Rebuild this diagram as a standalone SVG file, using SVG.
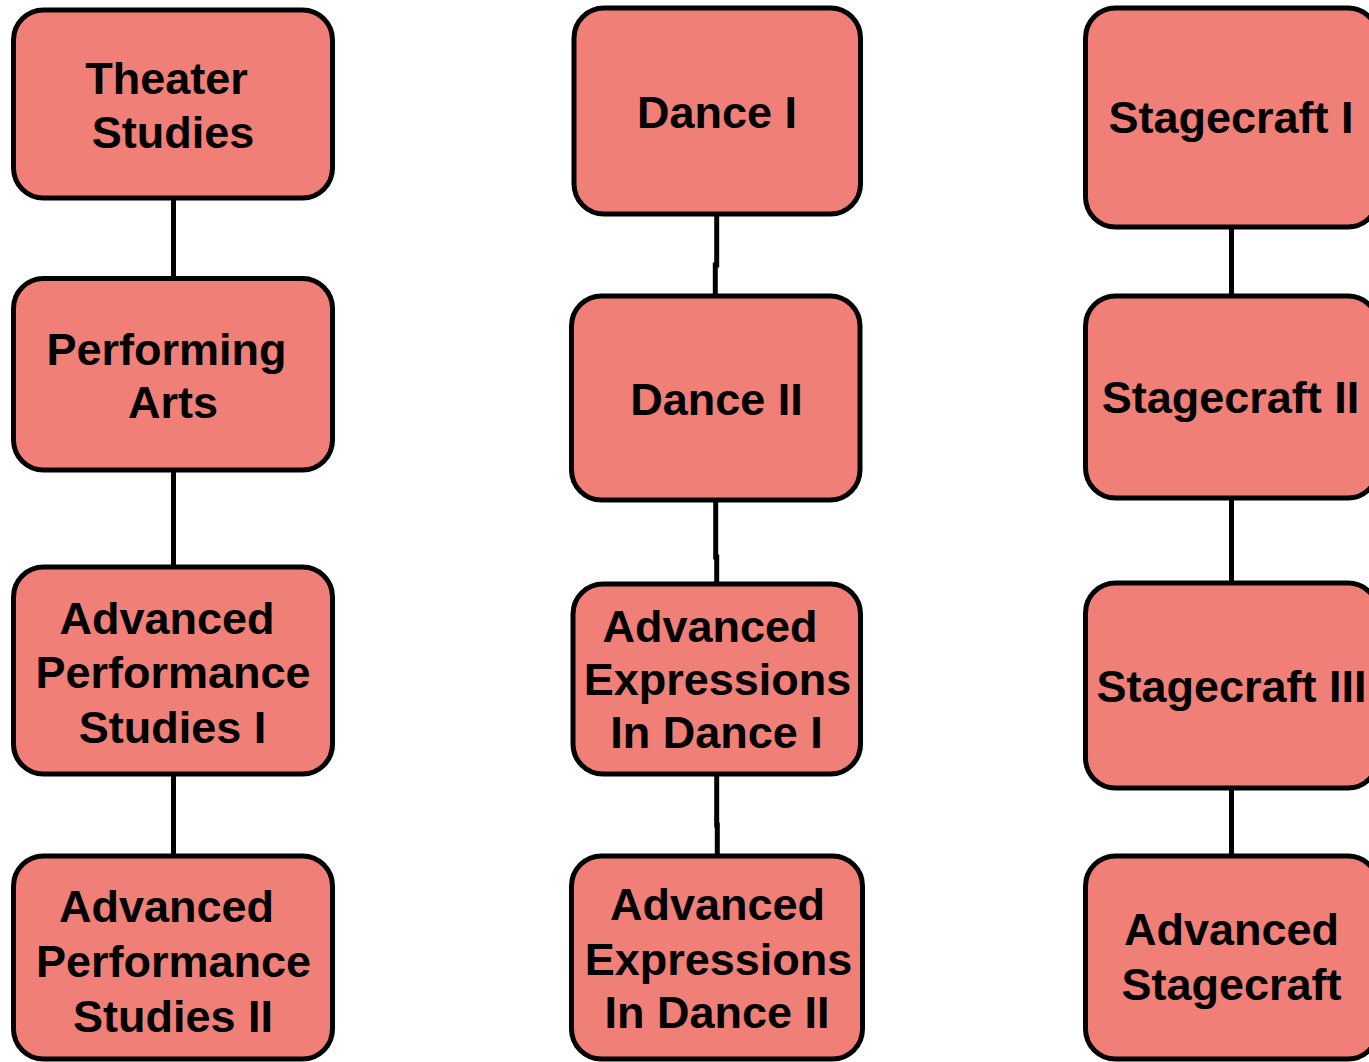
<svg xmlns="http://www.w3.org/2000/svg" width="1369" height="1062" viewBox="0 0 1369 1062">
<style>
.box{fill:#F07F77;stroke:#000;stroke-width:5}
.lbl{font-family:"Liberation Sans",Arial,sans-serif;font-weight:bold;font-size:45px;fill:#000;text-anchor:middle}
.conn{fill:none;stroke:#000;stroke-width:5}
</style>
<rect width="1369" height="1062" fill="#fff"/>
<g id="connectors">
<path class="conn" d="M173.5 198V278.5"/>
<path class="conn" d="M173.5 470V567"/>
<path class="conn" d="M173.5 774V856"/>
<path class="conn" d="M716.7 214V265H715.3V296"/>
<path class="conn" d="M715.7 500V557H716.7V584"/>
<path class="conn" d="M716.7 774V825H717.3V856"/>
<path class="conn" d="M1231.5 227V296"/>
<path class="conn" d="M1231.5 498V583"/>
<path class="conn" d="M1231.5 788V856"/>
</g>
<g id="theater-studies">
<rect class="box" x="13.5" y="10" width="319" height="188" rx="30"/>
<text class="lbl"><tspan x="166.5" y="94">Theater</tspan><tspan x="173" y="148">Studies</tspan></text>
</g>
<g id="performing-arts">
<rect class="box" x="13.5" y="278.5" width="319" height="191.5" rx="30"/>
<text class="lbl"><tspan x="166.5" y="365">Performing</tspan><tspan x="173" y="418">Arts</tspan></text>
</g>
<g id="adv-perf-1">
<rect class="box" x="13.5" y="567" width="319" height="207" rx="30"/>
<text class="lbl"><tspan x="167" y="634">Advanced</tspan><tspan x="173" y="688">Performance</tspan><tspan x="172.5" y="743">Studies I</tspan></text>
</g>
<g id="adv-perf-2">
<rect class="box" x="13.5" y="856" width="319" height="203" rx="30"/>
<text class="lbl"><tspan x="166.5" y="922">Advanced</tspan><tspan x="173.5" y="977">Performance</tspan><tspan x="173" y="1032">Studies II</tspan></text>
</g>
<g id="dance-1">
<rect class="box" x="574" y="8" width="286.5" height="206" rx="30"/>
<text class="lbl" x="717" y="128">Dance I</text>
</g>
<g id="dance-2">
<rect class="box" x="571.5" y="296" width="288.5" height="204" rx="30"/>
<text class="lbl" x="716.5" y="415">Dance II</text>
</g>
<g id="adv-expr-1">
<rect class="box" x="573" y="584" width="287.5" height="190" rx="30"/>
<text class="lbl"><tspan x="710" y="642">Advanced</tspan><tspan x="717.5" y="695">Expressions</tspan><tspan x="716.5" y="748">In Dance I</tspan></text>
</g>
<g id="adv-expr-2">
<rect class="box" x="571.5" y="856" width="291" height="203" rx="30"/>
<text class="lbl"><tspan x="717.5" y="920">Advanced</tspan><tspan x="718.5" y="975">Expressions</tspan><tspan x="717" y="1028">In Dance II</tspan></text>
</g>
<g id="stagecraft-1">
<rect class="box" x="1085.5" y="8" width="292.5" height="219" rx="30"/>
<text class="lbl" x="1231" y="133">Stagecraft I</text>
</g>
<g id="stagecraft-2">
<rect class="box" x="1085.5" y="296" width="292.5" height="202" rx="30"/>
<text class="lbl" x="1230.5" y="413">Stagecraft II</text>
</g>
<g id="stagecraft-3">
<rect class="box" x="1085.5" y="583" width="292.5" height="205" rx="30"/>
<text class="lbl" x="1231.5" y="702">Stagecraft III</text>
</g>
<g id="adv-stagecraft">
<rect class="box" x="1085.5" y="856" width="292.5" height="203" rx="30"/>
<text class="lbl"><tspan x="1231.5" y="945">Advanced</tspan><tspan x="1231.5" y="1000">Stagecraft</tspan></text>
</g>
</svg>
